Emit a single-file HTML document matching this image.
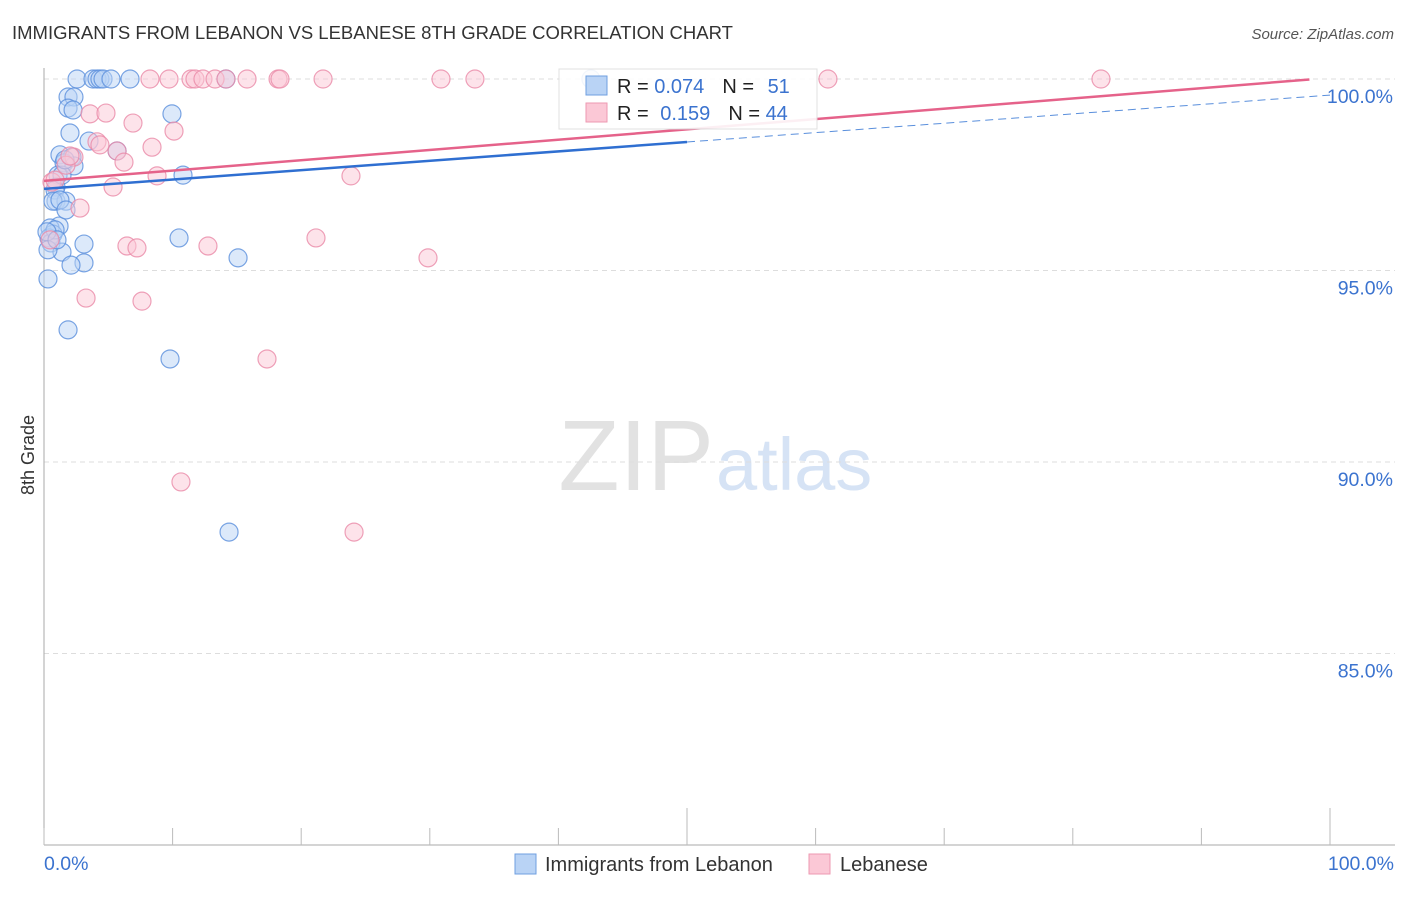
<!DOCTYPE html>
<html><head><meta charset="utf-8"><style>
body{margin:0;background:#fff;font-family:"Liberation Sans",sans-serif}
svg text{font-family:"Liberation Sans",sans-serif}
</style></head><body>
<svg width="1406" height="892" viewBox="0 0 1406 892">
<text x="12" y="39" font-size="18.5" fill="#333">IMMIGRANTS FROM LEBANON VS LEBANESE 8TH GRADE CORRELATION CHART</text>
<text x="1394" y="39" font-size="15" fill="#555" font-style="italic" text-anchor="end">Source: ZipAtlas.com</text>
<text x="714" y="490" font-size="100" fill="#e2e2e2" text-anchor="end" font-family="Liberation Serif">ZIP</text>
<text x="716" y="490" font-size="74" fill="#d6e3f5">atlas</text>
<g id="grid"></g>
<g id="axes"></g>
<g id="marks"></g>
<text transform="translate(34,455) rotate(-90)" font-size="18" fill="#333" text-anchor="middle">8th Grade</text>
<g>
<rect x="559" y="69" width="258" height="60" fill="#fff" stroke="#ddd" opacity="0.9"/>
<rect x="586" y="76" width="21" height="19" fill="#b9d3f5" stroke="#6f9fe0"/>
<rect x="586" y="103" width="21" height="19" fill="#fbc8d6" stroke="#ee99b2"/>
<text x="617" y="93" font-size="20" fill="#222">R = <tspan fill="#3b73cf">0.074</tspan><tspan dx="18">N = </tspan><tspan dx="8" fill="#3b73cf">51</tspan></text>
<text x="617" y="120" font-size="20" fill="#222">R = <tspan dx="6" fill="#3b73cf">0.159</tspan><tspan dx="18">N = </tspan><tspan fill="#3b73cf">44</tspan></text>
</g>
<g>
<rect x="515" y="854" width="21" height="20" fill="#b9d3f5" stroke="#6f9fe0"/>
<text x="545" y="871" font-size="20" fill="#333">Immigrants from Lebanon</text>
<rect x="809" y="854" width="21" height="20" fill="#fbc8d6" stroke="#ee99b2"/>
<text x="840" y="871" font-size="20" fill="#333">Lebanese</text>
</g>
</svg>
<script>
const yTicks=[100,95,90,85];
const yTickLabels=["100.0%","95.0%","90.0%","85.0%"];
const xTickLabels=["0.0%","100.0%"];
const bluePx=[[77,79],[93,79],[97,79],[100,79],[103,79],[111,79],[130,79],[226,79],[591,79],[68,97],[74,97],[68,108],[73,110],[172,114],[70,133],[89,141],[117,151],[60,155],[72,157],[64,163],[74,166],[183,175],[58,175],[56,187],[55,190],[56,201],[66,201],[53,201],[59,226],[50,228],[53,234],[49,238],[51,243],[62,252],[84,244],[179,238],[238,258],[84,263],[71,265],[48,279],[68,330],[170,359],[229,532],[55,230],[47,232],[60,200],[48,250],[57,240],[62,175],[66,210],[65,160]];
const pinkPx=[[150,79],[169,79],[191,79],[195,79],[203,79],[215,79],[226,79],[247,79],[278,79],[280,79],[323,79],[441,79],[475,79],[828,79],[1101,79],[90,114],[106,113],[133,123],[174,131],[97,142],[152,147],[117,151],[74,157],[124,162],[66,165],[157,176],[351,176],[113,187],[80,208],[52,182],[127,246],[137,248],[208,246],[316,238],[428,258],[86,298],[142,301],[267,359],[181,482],[354,532],[50,240],[55,180],[100,145],[70,156]];
const blueX=bluePx.map(p=>+((p[0]-44)/12.86).toFixed(2));
const blueY=bluePx.map(p=>+(100-(p[1]-79)/38.3).toFixed(2));
const pinkX=pinkPx.map(p=>+((p[0]-44)/12.86).toFixed(2));
const pinkY=pinkPx.map(p=>+(100-(p[1]-79)/38.3).toFixed(2));
const blueTrend=[97.13,99.58];
const pinkTrend=[97.34,100.03];
const X0=44,X1=1330,Y100=79,Y80=845;
const sx=v=>X0+(X1-X0)*v/100;
const sy=v=>Y100+(100-v)*(Y80-Y100)/20;
const NS="http://www.w3.org/2000/svg";
function mk(t,a,p){const e=document.createElementNS(NS,t);for(const k in a)e.setAttribute(k,a[k]);p.appendChild(e);return e;}
const grid=document.getElementById('grid'),axes=document.getElementById('axes'),marks=document.getElementById('marks');
yTicks.forEach((v,i)=>{
 const l=mk('line',{x1:44,x2:1395,y1:sy(v),y2:sy(v),stroke:'#ddd','stroke-dasharray':'5,4'},grid);
 
 
 const t=mk('text',{x:1393,y:sy(v)+24,'font-size':19.5,fill:'#3b73cf','text-anchor':'end'},axes);
 t.textContent=yTickLabels[i];
 
 
});
const yl=mk('line',{x1:44,x2:44,y1:68,y2:845,stroke:'#aaa'},axes);


const xl=mk('line',{x1:44,x2:1395,y1:845,y2:845,stroke:'#aaa'},axes);


for(let i=0;i<=10;i++){
 const major=(i==5||i==10);
 const tk=mk('line',{x1:sx(i*10),x2:sx(i*10),y1:major?808:828,y2:845,stroke:'#bbb'},axes);
 
 
}
[[0,'start',44],[100,'end',1394]].forEach((d,i)=>{
 const t=mk('text',{x:d[2],y:870,'font-size':19.5,fill:'#3b73cf','text-anchor':d[1]},axes);
 t.textContent=xTickLabels[i];
 
 
});
function dots(xs,ys,fill,stroke,name){
 xs.forEach((x,i)=>{
  const c=mk('circle',{cx:sx(x),cy:sy(ys[i]),r:9,fill:fill,'fill-opacity':0.5,stroke:stroke,'stroke-width':1.2,'stroke-opacity':0.8},marks);
  
  
 });
}
dots(blueX,blueY,'#b9d3f5','#5a8fdc','point-immigrants');
dots(pinkX,pinkY,'#fbc8d6','#ea8aa8','point-lebanese');
const bm=50;
const b1=mk('line',{x1:sx(0),y1:sy(blueTrend[0]),x2:sx(bm),y2:sy(blueTrend[0]+(blueTrend[1]-blueTrend[0])*bm/100),stroke:'#2f6fd1','stroke-width':2.5},marks);


const b2=mk('line',{x1:sx(bm),y1:sy(blueTrend[0]+(blueTrend[1]-blueTrend[0])*bm/100),x2:sx(100),y2:sy(blueTrend[1]),stroke:'#5a8fdc','stroke-width':1,'stroke-dasharray':'8,5'},marks);


const pe=98.4;
const p1=mk('line',{x1:sx(0),y1:sy(pinkTrend[0]),x2:sx(pe),y2:sy(pinkTrend[0]+(pinkTrend[1]-pinkTrend[0])*pe/100),stroke:'#e5628a','stroke-width':2.5},marks);


</script>
</body></html>
